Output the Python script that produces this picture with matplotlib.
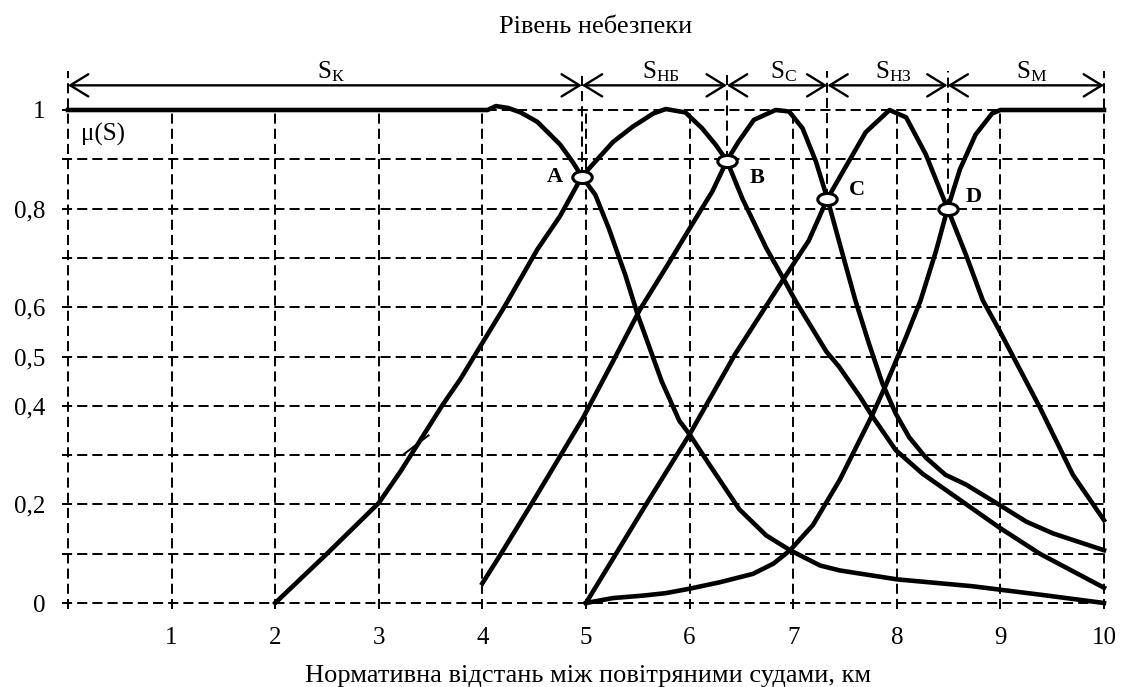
import matplotlib
matplotlib.use("Agg")
import matplotlib.pyplot as plt
import numpy as np
from matplotlib.patches import FancyArrowPatch, ArrowStyle
from matplotlib.path import Path

plt.rcParams['font.family'] = ['Liberation Serif', 'DejaVu Serif']
plt.rcParams['mathtext.fontset'] = 'custom'
plt.rcParams['mathtext.rm'] = 'Liberation Serif'
plt.rcParams['mathtext.it'] = 'Liberation Serif:italic'
plt.rcParams['mathtext.bf'] = 'Liberation Serif:bold'

# ---------------- data ----------------
# S_K : critical
sk_x = [0, 4.05, 4.13, 4.25, 4.37, 4.53, 4.75, 4.87, 4.96, 5.09, 5.22, 5.38, 5.5,
        5.73, 5.9, 6.0, 6.19, 6.48, 6.74, 6.97, 7.26, 7.45, 8.0, 8.73, 9.38, 10]
sk_y = [1, 1, 1.008, 1.004, 0.995, 0.976, 0.93, 0.895, 0.865, 0.828, 0.76, 0.665, 0.584,
        0.45, 0.37, 0.342, 0.281, 0.19, 0.137, 0.107, 0.076, 0.066, 0.048, 0.034, 0.017, 0.0]

# S_НБ : dangerous
snb_x = [2, 2.5, 3.0, 3.21, 3.4, 3.61, 3.79, 3.92, 4.21, 4.53, 4.75, 4.96, 5.26, 5.45,
         5.65, 5.77, 5.96, 6.12, 6.25, 6.36, 6.51, 6.74, 6.9, 7.03, 7.32, 7.44, 7.64,
         7.76, 7.99, 8.25, 8.57, 8.99, 9.38, 10]
snb_y = [0, 0.1, 0.203, 0.267, 0.33, 0.4, 0.455, 0.5, 0.6, 0.717, 0.785, 0.865, 0.935, 0.966,
         0.993, 1.002, 0.995, 0.963, 0.93, 0.897, 0.82, 0.72, 0.66, 0.61, 0.51, 0.48, 0.42,
         0.38, 0.31, 0.262, 0.215, 0.153, 0.1, 0.031]

# S_С : medium
sc_x = [4.0, 4.18, 4.5, 4.97, 5.26, 5.52, 5.8, 6.03, 6.22, 6.36, 6.47, 6.62, 6.83, 6.96,
        7.09, 7.22, 7.33, 7.48, 7.6, 7.73, 7.86, 7.99, 8.12, 8.28, 8.47, 8.67, 8.99,
        9.25, 9.51, 10]
sc_y = [0.04, 0.1, 0.21, 0.375, 0.49, 0.595, 0.69, 0.77, 0.835, 0.897, 0.935, 0.98, 1.0, 0.997,
        0.963, 0.895, 0.82, 0.705, 0.614, 0.527, 0.446, 0.384, 0.336, 0.295, 0.26, 0.24, 0.199,
        0.165, 0.141, 0.107]

# S_НЗ : low
snz_x = [5.0, 5.29, 5.58, 6.0, 6.44, 6.9, 7.15, 7.33, 7.48, 7.7, 7.93, 8.09, 8.28, 8.49,
         8.67, 8.83, 8.99, 9.38, 9.7, 10]
snz_y = [0, 0.1, 0.2, 0.342, 0.505, 0.655, 0.735, 0.82, 0.875, 0.955, 1.0, 0.985, 0.91, 0.80,
         0.705, 0.614, 0.553, 0.397, 0.26, 0.168]

# S_М : minimal
sm_x = [5.0, 5.26, 5.55, 5.77, 6.0, 6.29, 6.61, 6.81, 6.97, 7.19, 7.45, 7.76, 7.89, 8.09,
        8.23, 8.38, 8.49, 8.61, 8.76, 8.92, 9.0, 10]
sm_y = [0, 0.01, 0.015, 0.02, 0.029, 0.042, 0.059, 0.08, 0.107, 0.158, 0.25, 0.38, 0.44, 0.54,
        0.614, 0.715, 0.80, 0.88, 0.95, 0.993, 1.0, 1.0]

# small stray stroke on the S_НБ curve
stray_x = [3.23, 3.48]
stray_y = [0.30, 0.34]

# boundary points
point_labels = ['A', 'B', 'C', 'D']
point_x = [4.96, 6.36, 7.33, 8.49]
point_y = [0.865, 0.897, 0.82, 0.80]

zone_subs = ['К', 'НБ', 'С', 'НЗ', 'М']
x_min, x_max = 0, 10

x_ticks = [1, 2, 3, 4, 5, 6, 7, 8, 9, 10]
y_ticks = [0, 0.2, 0.4, 0.5, 0.6, 0.8, 1]
y_tick_labels = ['0', '0,2', '0,4', '0,5', '0,6', '0,8', '1']
grid_y = [0, 0.1, 0.2, 0.3, 0.4, 0.5, 0.6, 0.7, 0.8, 0.9, 1.0]
grid_x = [0, 1, 2, 3, 4, 5, 6, 7, 8, 9, 10]

title = 'Рівень небезпеки'
xlabel = 'Нормативна відстань між повітряними судами, км'
ylabel = 'μ(S)'

# ---------------- figure ----------------
W, H = 1123, 687
fig = plt.figure(figsize=(W / 100, H / 100), dpi=100)
ax = fig.add_axes([68 / W, 84 / H, 1036 / W, 493 / H])
ax.set_xlim(x_min, x_max)
ax.set_ylim(0, 1)
for s in ax.spines.values():
    s.set_visible(False)

dash = (0, (5.2, 2.6))
glw = 1.4
top_y = 1.08
arrow_y = 1.05

# horizontal grid
for gy in grid_y:
    ax.plot([-0.06, x_max], [gy, gy], color='black', lw=glw, ls=dash, clip_on=False, zorder=1)
# vertical grid
for gx in grid_x:
    ytop = top_y if gx in (x_min, x_max) else 1.0
    ax.plot([gx, gx], [-0.012, ytop], color='black', lw=glw, ls=dash, clip_on=False, zorder=1)
# boundary verticals
for px, py in zip(point_x, point_y):
    ax.plot([px, px], [py, top_y], color='black', lw=glw, ls=dash, clip_on=False, zorder=1)

# curves
clw = 3.3
for xs, ys in [(sk_x, sk_y), (snb_x, snb_y), (sc_x, sc_y), (snz_x, snz_y), (sm_x, sm_y)]:
    ax.plot(xs, ys, color='black', lw=clw, solid_joinstyle='round', clip_on=False, zorder=3)
ax.plot(stray_x, stray_y, color='black', lw=1.4, clip_on=False, zorder=3)

# points (open ellipses)
circ = Path.unit_circle()
ell = Path(circ.vertices * np.array([1.0, 0.62]), circ.codes)
ax.plot(point_x, point_y, ls='none', marker=ell, markersize=14, markerfacecolor='white',
        markeredgecolor='black', markeredgewidth=2.2, zorder=5, clip_on=False)
offsets = [(-27, 0), (30, -17), (30, 9), (26, 12)]
for lab, px, py, off in zip(point_labels, point_x, point_y, offsets):
    ax.annotate(lab, (px, py), xytext=off, textcoords='offset pixels', ha='center', va='center',
                fontsize=16, fontweight='bold', zorder=6)

# zone arrows
bounds = [x_min] + point_x + [x_max]
style = ArrowStyle('<->', head_length=13, head_width=8)
for a, b, sub in zip(bounds[:-1], bounds[1:], zone_subs):
    arr = FancyArrowPatch((a, arrow_y), (b, arrow_y), arrowstyle=style, mutation_scale=1,
                          lw=1.7, color='black', shrinkA=0, shrinkB=0, clip_on=False,
                          transform=ax.transData, zorder=4)
    ax.add_patch(arr)
    ax.text((a + b) / 2 + 0.06, 1.064, r'$\mathrm{S}_{\mathrm{' + sub + '}}$', ha='center',
            va='baseline', fontsize=18, clip_on=False)

# texts
ax.text(0.13, 0.95, ylabel, ha='left', va='center', fontsize=18)
fig.text(596 / W, 1 - 27 / H, title, ha='center', va='center', fontsize=19)
fig.text(588 / W, 1 - 682 / H, xlabel, ha='center', va='baseline', fontsize=19)

ax.set_xticks(x_ticks)
ax.set_xticklabels([str(t) for t in x_ticks], fontsize=18)
ax.set_yticks(y_ticks)
ax.set_yticklabels(y_tick_labels, fontsize=18)
ax.tick_params(axis='both', length=0)
ax.tick_params(axis='x', pad=17)
ax.tick_params(axis='y', pad=16)

fig.savefig('out.png', dpi=100)
